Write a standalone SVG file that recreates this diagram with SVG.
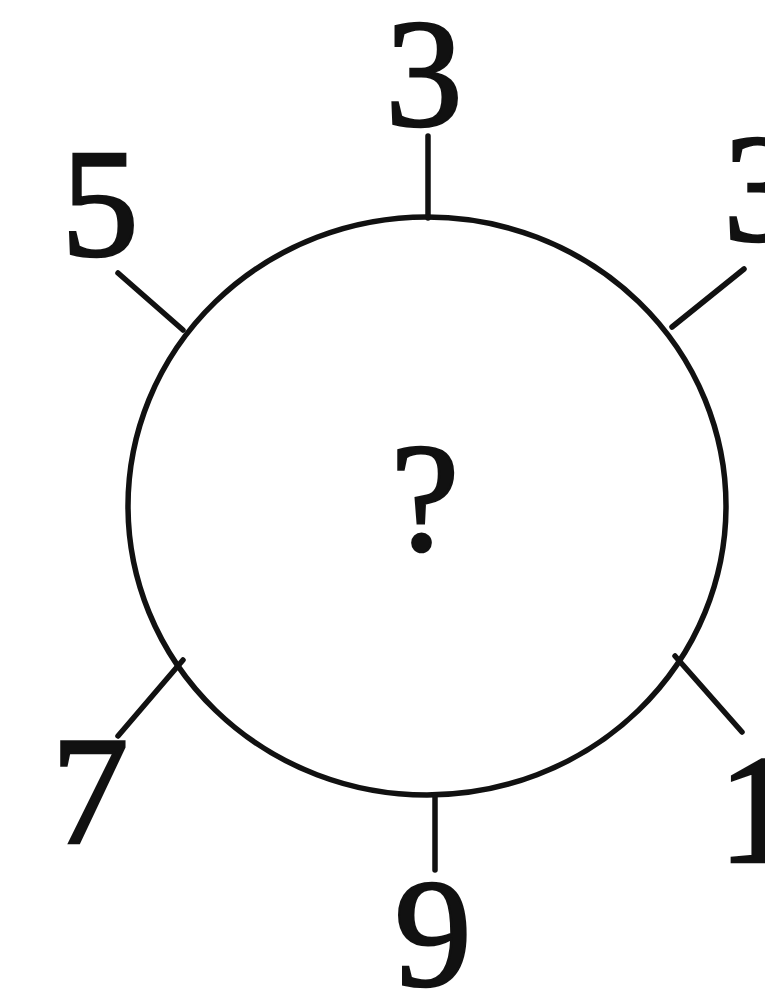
<svg xmlns="http://www.w3.org/2000/svg" width="765" height="993" viewBox="0 0 765 993">
<style>
.l{stroke:#111;stroke-width:5.5;stroke-linecap:round;fill:none}
.t{font-family:"Liberation Serif","Times New Roman",serif;font-size:155px;fill:#111;stroke:#111;stroke-width:2.5;text-anchor:middle}
</style>
<rect width="765" height="993" fill="#fff"/>
<g id="circle"><ellipse cx="427" cy="506" rx="299" ry="289" class="l"/>
<text class="t" x="425" y="550">?</text></g>
<g id="connectors">
<line class="l" x1="428" y1="136" x2="428" y2="218"/>
<line class="l" x1="118" y1="273" x2="183" y2="330"/>
<line class="l" x1="672" y1="327" x2="744" y2="269"/>
<line class="l" x1="675" y1="656" x2="742" y2="732"/>
<line class="l" x1="183" y1="660" x2="118" y2="736"/>
<line class="l" x1="435" y1="795" x2="435" y2="870"/>
</g>
<g id="n-top"><text class="t" x="424" y="125">3</text></g>
<g id="n-ul"><text class="t" x="100" y="255">5</text></g>
<g id="n-ur"><text class="t" x="762" y="240">3</text></g>
<g id="n-lr"><text class="t" x="757" y="862">1</text></g>
<g id="n-ll"><text class="t" x="90" y="843">7</text></g>
<g id="n-bot"><text class="t" x="433" y="985">9</text></g>
</svg>
